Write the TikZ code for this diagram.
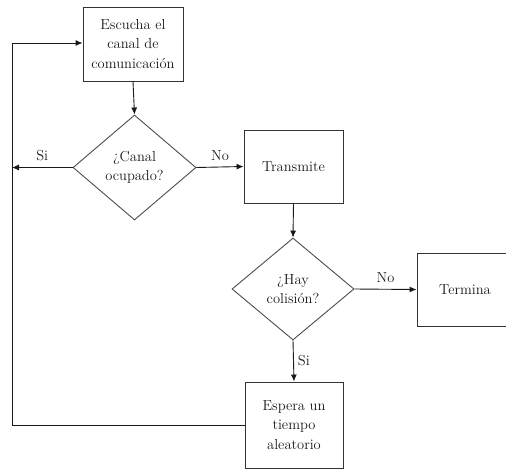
\documentclass[tikz,border=0pt]{standalone}
\usetikzlibrary{shapes.geometric,arrows.meta}
\begin{document}
\begin{tikzpicture}[x=1pt,y=-1pt,
  line width=0.9pt,
  every node/.style={font=\fontsize{14.5}{19.5}\selectfont, text=black!90},
  process/.style={draw=black!80, rectangle, inner sep=0pt, align=center},
  decision/.style={draw=black!70, diamond, inner sep=0pt, align=center},
  flow/.style={draw=black!90, -{Latex[length=7pt,width=6pt]}},
  tag/.style={inner sep=1pt}]
\useasboundingbox (0,0) rectangle (506,471);

% process steps and decisions
\node[process, minimum width=100pt, minimum height=74pt] (listen) at (133,44)
  {Escucha el\\canal de\\comunicación};
\node[decision, minimum width=123pt, minimum height=105pt] (busy) at (134.5,167.5)
  {¿Canal\\ocupado?};
\node[process, minimum width=99pt, minimum height=73pt] (send) at (293.5,166.5)
  {Transmite};
\node[decision, minimum width=122pt, minimum height=102pt] (coll) at (293,289)
  {¿Hay\\colisión?};
\node[process, minimum width=96pt, minimum height=73pt] (end) at (465,289.5)
  {Termina};
\node[process, minimum width=98pt, minimum height=86pt] (wait) at (294,425)
  {Espera un\\tiempo\\aleatorio};

% loop-back corner points on the left
\coordinate (busyout) at (12,167.5);
\coordinate (cornerlow) at (12,425);
\coordinate (cornerhigh) at (12,43);

% connectors
\draw[flow] (listen.south) -- (busy.north);
\draw[flow] (busy.west) -- node[tag, above=5pt] {Si} (busyout);
\draw[flow] (busy.east) -- node[tag, above=5pt] {No} (send.west);
\draw[flow] (send.south) -- (coll.north);
\draw[flow] (coll.east) -- node[tag, above=5pt] {No} (end.west);
\draw[flow] (coll.south) -- node[tag, right=3pt] {Si} (wait.north);
\draw[flow] (wait.west) -- (cornerlow) -- (cornerhigh) -- (listen.west |- cornerhigh);
\end{tikzpicture}
\end{document}
